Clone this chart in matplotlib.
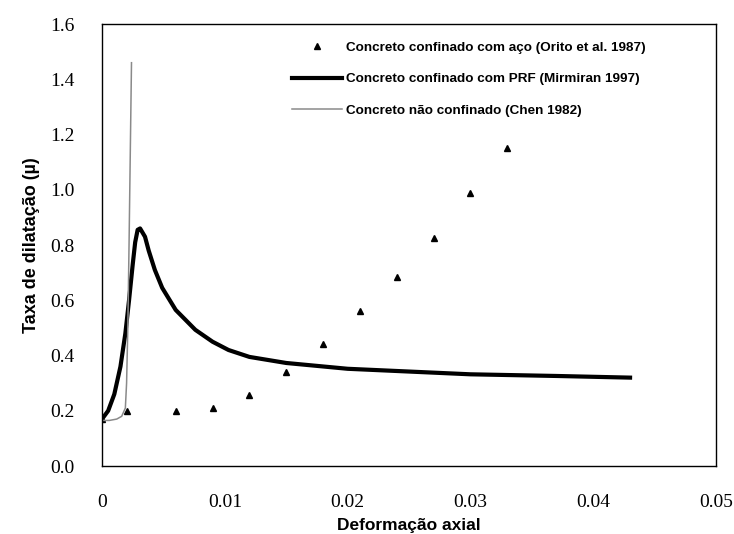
import matplotlib
matplotlib.use("Agg")
import matplotlib.pyplot as plt

# data
aco_x = [0.0, 0.002, 0.006, 0.009, 0.012, 0.015, 0.018, 0.021, 0.024, 0.027, 0.030, 0.033]
aco_y = [0.17, 0.20, 0.20, 0.21, 0.257, 0.34, 0.44, 0.56, 0.685, 0.826, 0.99, 1.152]

prf_x = [0.0, 0.0005, 0.001, 0.0015, 0.0019, 0.0022, 0.0025, 0.0027, 0.0029, 0.0031,
         0.0033, 0.0035, 0.0038, 0.0043, 0.0049, 0.006, 0.0076, 0.009, 0.0103,
         0.012, 0.015, 0.02, 0.026, 0.03, 0.037, 0.043]
prf_y = [0.17, 0.20, 0.26, 0.36, 0.48, 0.60, 0.73, 0.81, 0.855, 0.86,
         0.845, 0.83, 0.78, 0.71, 0.645, 0.565, 0.493, 0.45, 0.42,
         0.395, 0.373, 0.352, 0.34, 0.332, 0.326, 0.32]

chen_x = [0.0, 0.0006, 0.0012, 0.0016, 0.0019, 0.0020, 0.0021, 0.0022, 0.0024]
chen_y = [0.165, 0.165, 0.17, 0.18, 0.21, 0.30, 0.50, 0.80, 1.46]

xticks = [0, 0.01, 0.02, 0.03, 0.04, 0.05]
xtick_labels = ["0", "0.01", "0.02", "0.03", "0.04", "0.05"]
yticks = [0.0, 0.2, 0.4, 0.6, 0.8, 1.0, 1.2, 1.4, 1.6]

sans = ["Liberation Sans Narrow", "Liberation Sans", "DejaVu Sans"]
serif = ["Liberation Serif", "DejaVu Serif"]

fig = plt.figure(figsize=(7.34, 5.34), dpi=100)
ax = fig.add_axes([0.139, 0.1273, 0.8365, 0.8277])

ax.plot(aco_x, aco_y, linestyle="none", marker="^", color="black", markersize=5,
        label="Concreto confinado com aço (Orito et al. 1987)")
ax.plot(prf_x, prf_y, color="black", linewidth=3, solid_joinstyle="round",
        label="Concreto confinado com PRF (Mirmiran 1997)")
ax.plot(chen_x, chen_y, color="#8a8a8a", linewidth=1.1,
        label="Concreto não confinado (Chen 1982)")

ax.set_xlim(0, 0.05)
ax.set_ylim(0, 1.6)
ax.set_xticks(xticks)
ax.set_xticklabels(xtick_labels)
ax.set_yticks(yticks)
ax.set_yticklabels([f"{v:.1f}" for v in yticks])
ax.tick_params(length=0, labelsize=14, pad=20)
for lab in ax.get_xticklabels() + ax.get_yticklabels():
    lab.set_fontfamily(serif)
for s in ax.spines.values():
    s.set_linewidth(1.0)

ax.set_xlabel("Deformação axial", fontfamily=sans, fontweight="bold", fontsize=12.5, labelpad=5)
ax.set_ylabel("Taxa de dilatação (µ)", fontfamily=sans, fontweight="bold", fontsize=13, labelpad=7)

ax.legend(loc="upper left", bbox_to_anchor=(0.29, 0.988), frameon=False,
          prop={"family": sans, "weight": "bold", "size": 9.7},
          handlelength=3.7, handletextpad=0.3, labelspacing=1.42)

fig.savefig("out.png", dpi=100)
